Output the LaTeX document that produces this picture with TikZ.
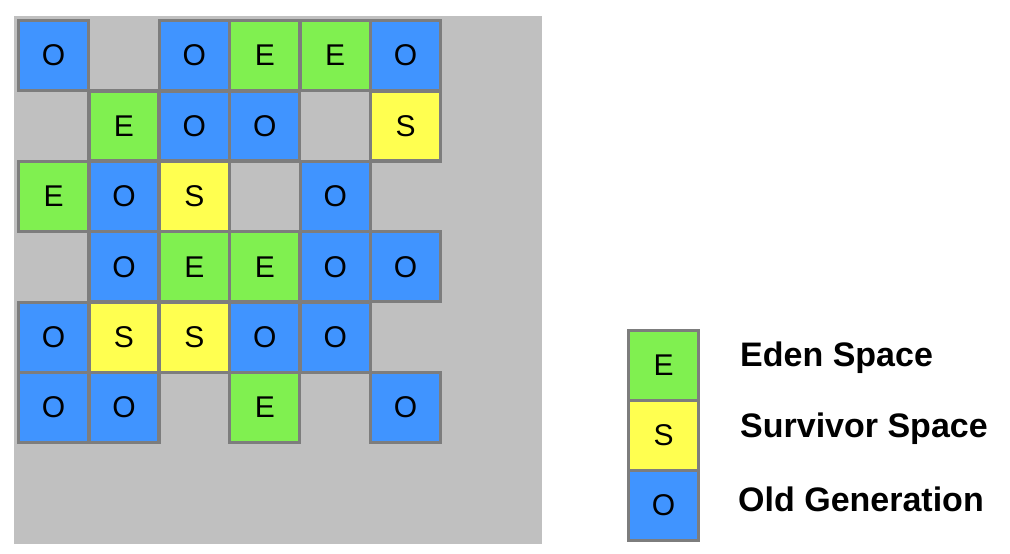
\documentclass[tikz,border=0pt]{standalone}
\usepackage{fontspec}
\setmainfont{Liberation Sans}
\definecolor{bgcol}{RGB}{192,192,192}
\definecolor{edgecol}{RGB}{125,125,125}
\definecolor{edencol}{RGB}{128,240,80}
\definecolor{survcol}{RGB}{255,255,80}
\definecolor{oldcol}{RGB}{64,148,255}
\tikzset{
  cellbox/.style={draw=edgecol, line width=3.2pt, minimum width=70pt, minimum height=70pt, inner sep=0pt, anchor=north west, font=\fontsize{30}{30}\selectfont},
  eden/.style={cellbox, fill=edencol},
  surv/.style={cellbox, fill=survcol},
  old/.style={cellbox, fill=oldcol},
  legtext/.style={anchor=west, font=\fontsize{34}{34}\selectfont\bfseries, inner sep=0pt}
}
\begin{document}
\begin{tikzpicture}[x=1pt,y=-1pt]
\useasboundingbox (0,0) rectangle (1010,554);
\fill[bgcol] (14,16) rectangle (542,544);
\def\gx#1{17+70.4*#1}
\def\gy#1{19+70.4*#1}
% Row 0
\node[old]  (r0c0) at ({\gx0},{\gy0}) {O};
\node[old]  (r0c2) at ({\gx2},{\gy0}) {O};
\node[eden] (r0c3) at ({\gx3},{\gy0}) {E};
\node[eden] (r0c4) at ({\gx4},{\gy0}) {E};
\node[old]  (r0c5) at ({\gx5},{\gy0}) {O};
% Row 1
\node[eden] (r1c1) at ({\gx1},{\gy1}) {E};
\node[old]  (r1c2) at ({\gx2},{\gy1}) {O};
\node[old]  (r1c3) at ({\gx3},{\gy1}) {O};
\node[surv] (r1c5) at ({\gx5},{\gy1}) {S};
% Row 2
\node[eden] (r2c0) at ({\gx0},{\gy2}) {E};
\node[old]  (r2c1) at ({\gx1},{\gy2}) {O};
\node[surv] (r2c2) at ({\gx2},{\gy2}) {S};
\node[old]  (r2c4) at ({\gx4},{\gy2}) {O};
% Row 3
\node[old]  (r3c1) at ({\gx1},{\gy3}) {O};
\node[eden] (r3c2) at ({\gx2},{\gy3}) {E};
\node[eden] (r3c3) at ({\gx3},{\gy3}) {E};
\node[old]  (r3c4) at ({\gx4},{\gy3}) {O};
\node[old]  (r3c5) at ({\gx5},{\gy3}) {O};
% Row 4
\node[old]  (r4c0) at ({\gx0},{\gy4}) {O};
\node[surv] (r4c1) at ({\gx1},{\gy4}) {S};
\node[surv] (r4c2) at ({\gx2},{\gy4}) {S};
\node[old]  (r4c3) at ({\gx3},{\gy4}) {O};
\node[old]  (r4c4) at ({\gx4},{\gy4}) {O};
% Row 5
\node[old]  (r5c0) at ({\gx0},{\gy5}) {O};
\node[old]  (r5c1) at ({\gx1},{\gy5}) {O};
\node[eden] (r5c3) at ({\gx3},{\gy5}) {E};
\node[old]  (r5c5) at ({\gx5},{\gy5}) {O};
% Legend
\node[eden] (le) at (627,329) {E};
\node[surv] (ls) at (627,399) {S};
\node[old]  (lo) at (627,469) {O};
\node[legtext] (te) at (740,358) {Eden Space};
\node[legtext] (ts) at (740,429) {Survivor Space};
\node[legtext] (to) at (738,499) {Old Generation};
\end{tikzpicture}
\end{document}
